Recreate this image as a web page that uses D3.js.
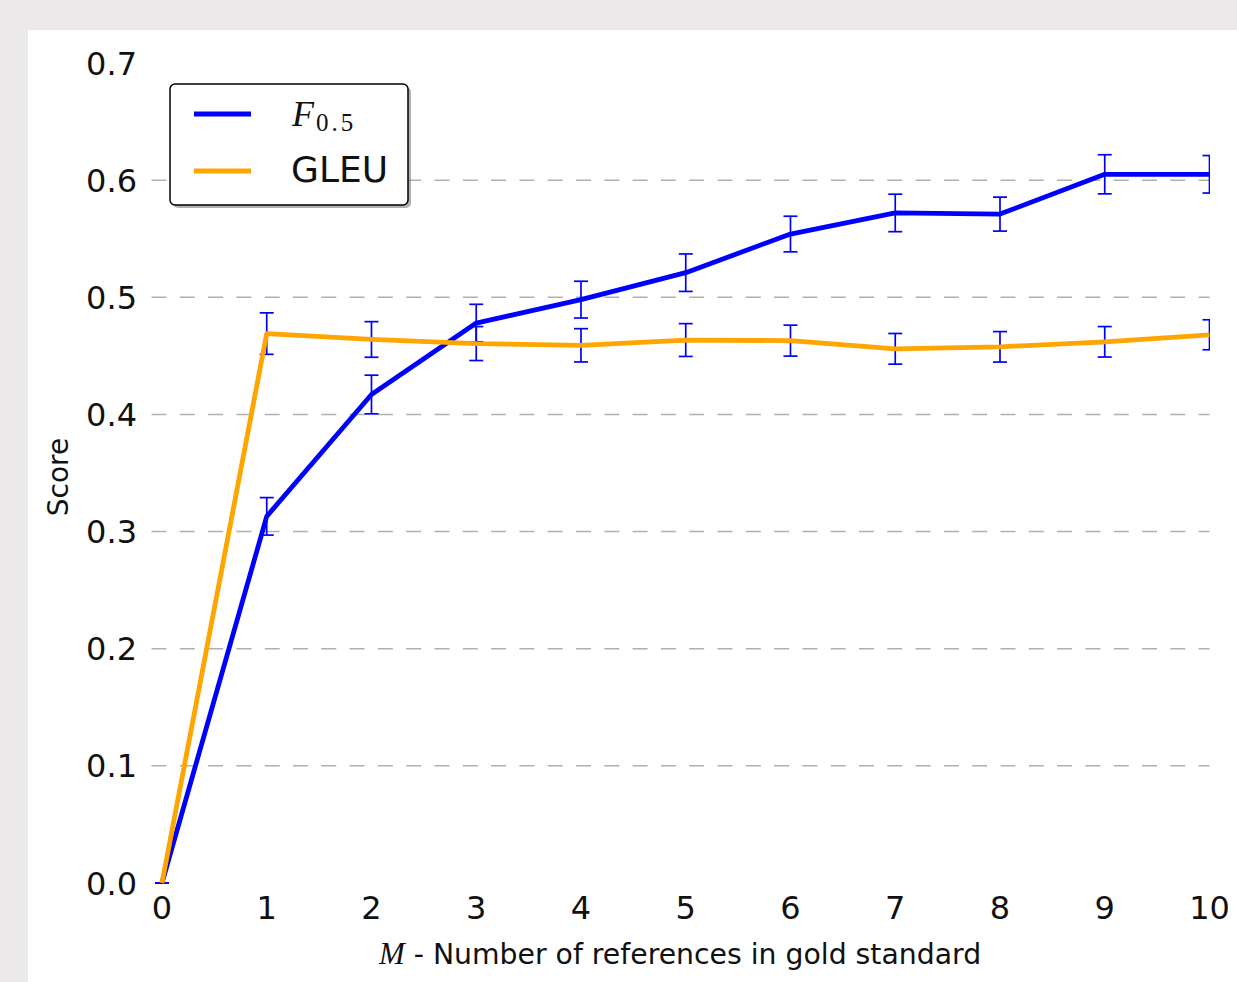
<html>
  <head>
    <meta charset="utf-8">
    <script src="https://cdn.jsdelivr.net/npm/d3@7/dist/d3.min.js"></script>
    <style>
      body { margin: 0; background: #ebe9ea; }
      svg { display: block; }
    </style>
  </head>
  <body>
    <div id="main"></div>
  <script>
    // values
    var refs = [0, 1, 2, 3, 4, 5, 6, 7, 8, 9, 10];
    var f05 = [0.0, 0.313, 0.417, 0.478, 0.498, 0.521, 0.554, 0.572, 0.571, 0.605, 0.605];
    var f05Err = [0.0, 0.016, 0.0165, 0.016, 0.0157, 0.016, 0.0152, 0.016, 0.0145, 0.0167, 0.016];
    var gleu = [0.0, 0.469, 0.464, 0.4605, 0.459, 0.4635, 0.463, 0.456, 0.4577, 0.462, 0.468];
    var gleuErr = [0.0, 0.0177, 0.0152, 0.0145, 0.0142, 0.014, 0.0132, 0.0131, 0.013, 0.013, 0.0128];
    var yTicks = [0.0, 0.1, 0.2, 0.3, 0.4, 0.5, 0.6, 0.7];

    var svgWidth = 1237;
    var svgHeight = 982;

    var svg = d3.select('#main')
      .append('svg')
      .attr('width', svgWidth)
      .attr('height', svgHeight);

    // white figure panel (the picture is a crop of a bigger figure)
    svg.append('rect')
      .attr('x', 28).attr('y', 30)
      .attr('width', svgWidth - 28).attr('height', svgHeight - 30)
      .attr('fill', '#ffffff');

    var x = d3.scaleLinear().domain([-0.1, 10]).range([151.5, 1209.5]);
    var y = d3.scaleLinear().domain([0, 0.7]).range([883, 63]);

    var font = '"DejaVu Sans", sans-serif';

    // dashed horizontal grid
    svg.append('g')
      .selectAll('line')
      .data(yTicks.slice(1, 7))
      .enter()
      .append('line')
      .attr('x1', x(-0.1)).attr('x2', x(10))
      .attr('y1', function(d) { return y(d); })
      .attr('y2', function(d) { return y(d); })
      .attr('stroke', '#b0b0b0')
      .attr('stroke-width', 1.5)
      .attr('stroke-dasharray', '15,13.3');

    // y tick labels
    svg.append('g')
      .selectAll('text')
      .data(yTicks)
      .enter()
      .append('text')
      .attr('x', 137)
      .attr('y', function(d) { return y(d); })
      .attr('dy', '0.36em')
      .attr('text-anchor', 'end')
      .style('font-family', font)
      .style('font-size', '32px')
      .attr('fill', '#111')
      .text(function(d) { return d.toFixed(1); });

    // x tick labels
    svg.append('g')
      .selectAll('text')
      .data(refs)
      .enter()
      .append('text')
      .attr('x', function(d) { return x(d); })
      .attr('y', 919)
      .attr('text-anchor', 'middle')
      .style('font-family', font)
      .style('font-size', '32px')
      .attr('fill', '#111')
      .text(function(d) { return d; });

    // axis titles
    svg.append('text')
      .attr('transform', 'translate(68,477) rotate(-90)')
      .attr('text-anchor', 'middle')
      .style('font-family', font)
      .style('font-size', '28px')
      .attr('fill', '#111')
      .text('Score');

    var xl = svg.append('text')
      .attr('x', 680).attr('y', 964)
      .attr('text-anchor', 'middle')
      .style('font-family', font)
      .style('font-size', '28.3px')
      .attr('fill', '#111');
    xl.append('tspan')
      .style('font-family', '"Liberation Serif", serif')
      .style('font-style', 'italic')
      .style('font-size', '31px')
      .text('M');
    xl.append('tspan').text(' - Number of references in gold standard');

    // clip lines at the right end of the axes
    svg.append('clipPath').attr('id', 'plotclip')
      .append('rect')
      .attr('x', x(-0.1)).attr('y', 0)
      .attr('width', x(10) - x(-0.1) + 0.5).attr('height', y(0) + 2);

    var plot = svg.append('g').attr('clip-path', 'url(#plotclip)');

    var line = d3.line()
      .x(function(d) { return x(d[0]); })
      .y(function(d) { return y(d[1]); });

    function drawSeries(vals, errs, color) {
      var pts = refs.map(function(r, i) { return [r, vals[i], errs[i]]; });
      var bars = plot.append('g')
        .attr('stroke', '#0000ff')
        .attr('stroke-width', 1.7)
        .attr('fill', 'none');
      bars.selectAll('line.v')
        .data(pts)
        .enter()
        .append('line')
        .attr('x1', function(d) { return x(d[0]); })
        .attr('x2', function(d) { return x(d[0]); })
        .attr('y1', function(d) { return y(d[1] - d[2]); })
        .attr('y2', function(d) { return y(d[1] + d[2]); });
      [-1, 1].forEach(function(s) {
        bars.selectAll('line.c' + s)
          .data(pts)
          .enter()
          .append('line')
          .attr('x1', function(d) { return x(d[0]) - 7; })
          .attr('x2', function(d) { return x(d[0]) + 7; })
          .attr('y1', function(d) { return y(d[1] + s * d[2]); })
          .attr('y2', function(d) { return y(d[1] + s * d[2]); });
      });
      plot.append('path')
        .datum(pts)
        .attr('d', line)
        .attr('fill', 'none')
        .attr('stroke', color)
        .attr('stroke-width', 4.8)
        .attr('stroke-linejoin', 'round');
    }

    drawSeries(f05, f05Err, '#0000ff');
    drawSeries(gleu, gleuErr, '#ffa500');

    // legend with shadow
    var lg = svg.append('g').attr('transform', 'translate(170,84)');
    lg.append('rect')
      .attr('x', 3).attr('y', 3)
      .attr('width', 238).attr('height', 121)
      .attr('rx', 5)
      .attr('fill', '#7f7f7f').attr('opacity', 0.6);
    lg.append('rect')
      .attr('width', 238).attr('height', 121)
      .attr('rx', 5)
      .attr('fill', '#ffffff')
      .attr('stroke', '#000')
      .attr('stroke-width', 1.5);
    lg.append('line')
      .attr('x1', 24).attr('x2', 81).attr('y1', 30).attr('y2', 30)
      .attr('stroke', '#0000ff').attr('stroke-width', 4.8);
    lg.append('line')
      .attr('x1', 24).attr('x2', 81).attr('y1', 87).attr('y2', 87)
      .attr('stroke', '#ffa500').attr('stroke-width', 4.8);

    var fl = lg.append('text')
      .attr('x', 122).attr('y', 42)
      .style('font-family', '"Liberation Serif", serif')
      .attr('fill', '#111');
    fl.append('tspan')
      .style('font-style', 'italic')
      .style('font-size', '36px')
      .text('F');
    fl.append('tspan')
      .attr('dy', 5)
      .attr('dx', 2)
      .style('font-size', '25px')
      .style('letter-spacing', '3px')
      .text('0.5');

    lg.append('text')
      .attr('x', 121).attr('y', 98)
      .style('font-family', font)
      .style('font-size', '36px')
      .attr('fill', '#111')
      .text('GLEU');
  </script>
  </body>
</html>
